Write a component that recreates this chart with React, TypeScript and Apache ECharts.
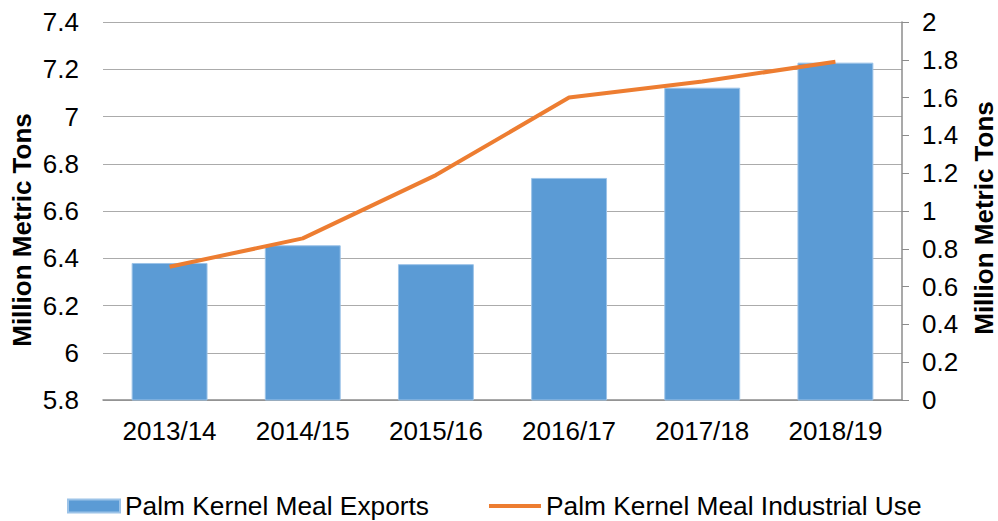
import React, { useEffect, useRef } from "react";
import * as echarts from "echarts";

const categories = ["2013/14", "2014/15", "2015/16", "2016/17", "2017/18", "2018/19"];
const exportsValues = [6.38, 6.455, 6.375, 6.74, 7.122, 7.228];
const industrialUse = [0.705, 0.855, 1.19, 1.6, 1.685, 1.79];
const seriesNames = ["Palm Kernel Meal Exports", "Palm Kernel Meal Industrial Use"];
const axisTitle = "Million Metric Tons";

const FONT = "'Liberation Sans', Arial, Helvetica, sans-serif";

export default function App() {
  const ref = useRef<HTMLDivElement>(null);
  useEffect(() => {
    if (!ref.current) return;
    const chart = echarts.init(ref.current, null, { renderer: "svg" });
    chart.setOption({
      animation: false,
      backgroundColor: "#ffffff",
      textStyle: { fontFamily: FONT },
      grid: { left: 103, right: 96, top: 22, bottom: 121, containLabel: false },
      legend: {
        bottom: 2,
        left: 67,
        padding: 0,
        itemWidth: 52,
        itemHeight: 13,
        itemGap: 60,
        textStyle: { fontSize: 26.3, color: "#000", fontFamily: FONT },
        data: [
          { name: seriesNames[0], icon: "rect" },
          { name: seriesNames[1], icon: "path://M0,0 L54,0 L54,4 L0,4 Z" },
        ],
      },
      graphic: [
        {
          type: "text",
          x: 22,
          y: 230,
          rotation: Math.PI / 2,
          style: {
            text: axisTitle,
            fontSize: 26,
            fontWeight: "bold",
            fontFamily: FONT,
            fill: "#000",
            align: "center",
            verticalAlign: "middle",
          },
        },
        {
          type: "text",
          x: 984,
          y: 218,
          rotation: Math.PI / 2,
          style: {
            text: axisTitle,
            fontSize: 26,
            fontWeight: "bold",
            fontFamily: FONT,
            fill: "#000",
            align: "center",
            verticalAlign: "middle",
          },
        },
      ],
      xAxis: {
        type: "category",
        data: categories,
        axisLine: { show: true, lineStyle: { color: "#8c8c8c", width: 1.5 } },
        axisTick: { show: false },
        axisLabel: { fontSize: 26, color: "#000", margin: 18, fontFamily: FONT },
      },
      yAxis: [
        {
          type: "value",
          min: 5.8,
          max: 7.4,
          interval: 0.2,
          axisLine: { show: false },
          axisTick: { show: false },
          axisLabel: {
            fontSize: 26,
            color: "#000",
            margin: 24,
            fontFamily: FONT,
            formatter: (v: number) => String(Math.round(v * 10) / 10),
          },
          splitLine: { show: true, lineStyle: { color: "#ababab", width: 1 } },
        },
        {
          type: "value",
          min: 0,
          max: 2,
          interval: 0.2,
          position: "right",
          axisLine: { show: true, lineStyle: { color: "#8c8c8c", width: 1.5 } },
          axisTick: { show: true, inside: false, length: 7, lineStyle: { color: "#8c8c8c" } },
          axisLabel: {
            fontSize: 26,
            color: "#000",
            margin: 20,
            fontFamily: FONT,
            formatter: (v: number) => String(Math.round(v * 10) / 10),
          },
          splitLine: { show: false },
        },
      ],
      series: [
        {
          name: seriesNames[0],
          type: "bar",
          yAxisIndex: 0,
          data: exportsValues,
          barWidth: "57%",
          itemStyle: { color: "#5b9bd5", borderColor: "#9cc3e8", borderWidth: 1 },
        },
        {
          name: seriesNames[1],
          type: "line",
          yAxisIndex: 1,
          data: industrialUse,
          symbol: "none",
          lineStyle: { color: "#ed7d31", width: 4 },
          itemStyle: { color: "#ed7d31" },
        },
      ],
    });
    return () => chart.dispose();
  }, []);
  return (
    <div
      ref={ref}
      style={{ position: "fixed", left: 0, top: 0, width: 998, height: 521, background: "#fff" }}
    />
  );
}
